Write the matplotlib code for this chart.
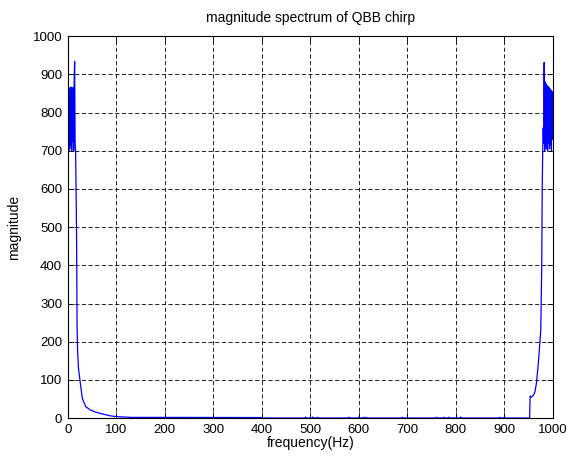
import matplotlib.pyplot as plt
import numpy as np

plt.rcParams['font.family'] = ['Liberation Sans', 'DejaVu Sans']

# magnitude spectrum (freq in Hz, magnitude)
freq_left = [0, 1, 2, 3, 4, 5, 6, 7, 8, 9, 10, 11, 12, 13, 14, 15, 16, 17, 18, 19,
             20, 22, 25, 30, 37, 47, 57, 68, 78, 88, 100, 115, 125, 130]
mag_left = [720, 828, 700, 860, 705, 866, 715, 866, 700, 862, 725, 866, 700, 880, 934,
            720, 700, 600, 480, 250, 180, 130, 99, 51, 30, 21, 16, 12, 9, 6, 4, 3, 2.5, 2]

freq_mid = [200, 300, 399, 400, 489, 490, 491, 504, 505, 506, 514, 515, 516,
            579, 580, 581, 599, 600, 601, 609, 610, 611, 614, 615, 616,
            689, 690, 691, 759, 760, 761, 774, 775, 776, 784, 785, 786,
            809, 810, 811, 889, 890, 891, 899, 900, 901, 952]
mag_mid = [2, 1.8, 1.6, 0.4, 0.4, 3, 0.4, 0.4, 3, 0.4, 0.4, 2.5, 0.4,
           0.4, 2.5, 0.4, 0.4, 3, 0.4, 0.4, 2.5, 0.4, 0.4, 2.5, 0.4,
           0.4, 2.5, 0.4, 0.4, 2.5, 0.4, 0.4, 2.5, 0.4, 0.4, 2.5, 0.4,
           0.4, 3, 0.4, 0.4, 2.5, 0.4, 0.4, 3, 0.4, 0.3]

freq_right = [953, 956, 960, 963, 966, 970, 973, 975, 977, 978, 979, 980, 981, 982,
              983, 984, 985, 986, 987, 988, 989, 990, 991, 992, 993, 994, 995, 996,
              997, 998, 999]
mag_right = [58, 55, 60, 69, 91, 144, 196, 230, 400, 600, 700, 760, 720, 931,
             700, 880, 710, 875, 705, 870, 700, 868, 720, 865, 705, 862, 715, 858,
             700, 855, 730]

freq = freq_left + freq_mid + freq_right
mag = mag_left + mag_mid + mag_right

fig = plt.figure(figsize=(5.7, 4.57), dpi=100)
ax = fig.add_axes([0.119, 0.085, 0.851, 0.836])
ax.plot(freq, mag, color='#0000ff', linewidth=0.9)

ax.set_xlim(0, 1000)
ax.set_ylim(0, 1000)
ax.set_xticks(np.arange(0, 1001, 100))
ax.set_yticks(np.arange(0, 1001, 100))
ax.grid(True, color='black', linestyle=(0, (5, 3)), linewidth=0.6)
ax.tick_params(direction='in', top=True, right=True, length=4, width=0.6,
               labelsize=9.5, pad=4)
for s in ax.spines.values():
    s.set_linewidth(0.8)

ax.set_title('magnitude spectrum of QBB chirp', fontsize=10, pad=10)
ax.set_xlabel('frequency(Hz)', fontsize=10, labelpad=0)
ax.set_ylabel('magnitude', fontsize=10, labelpad=8)

plt.savefig('out.png', dpi=100)
